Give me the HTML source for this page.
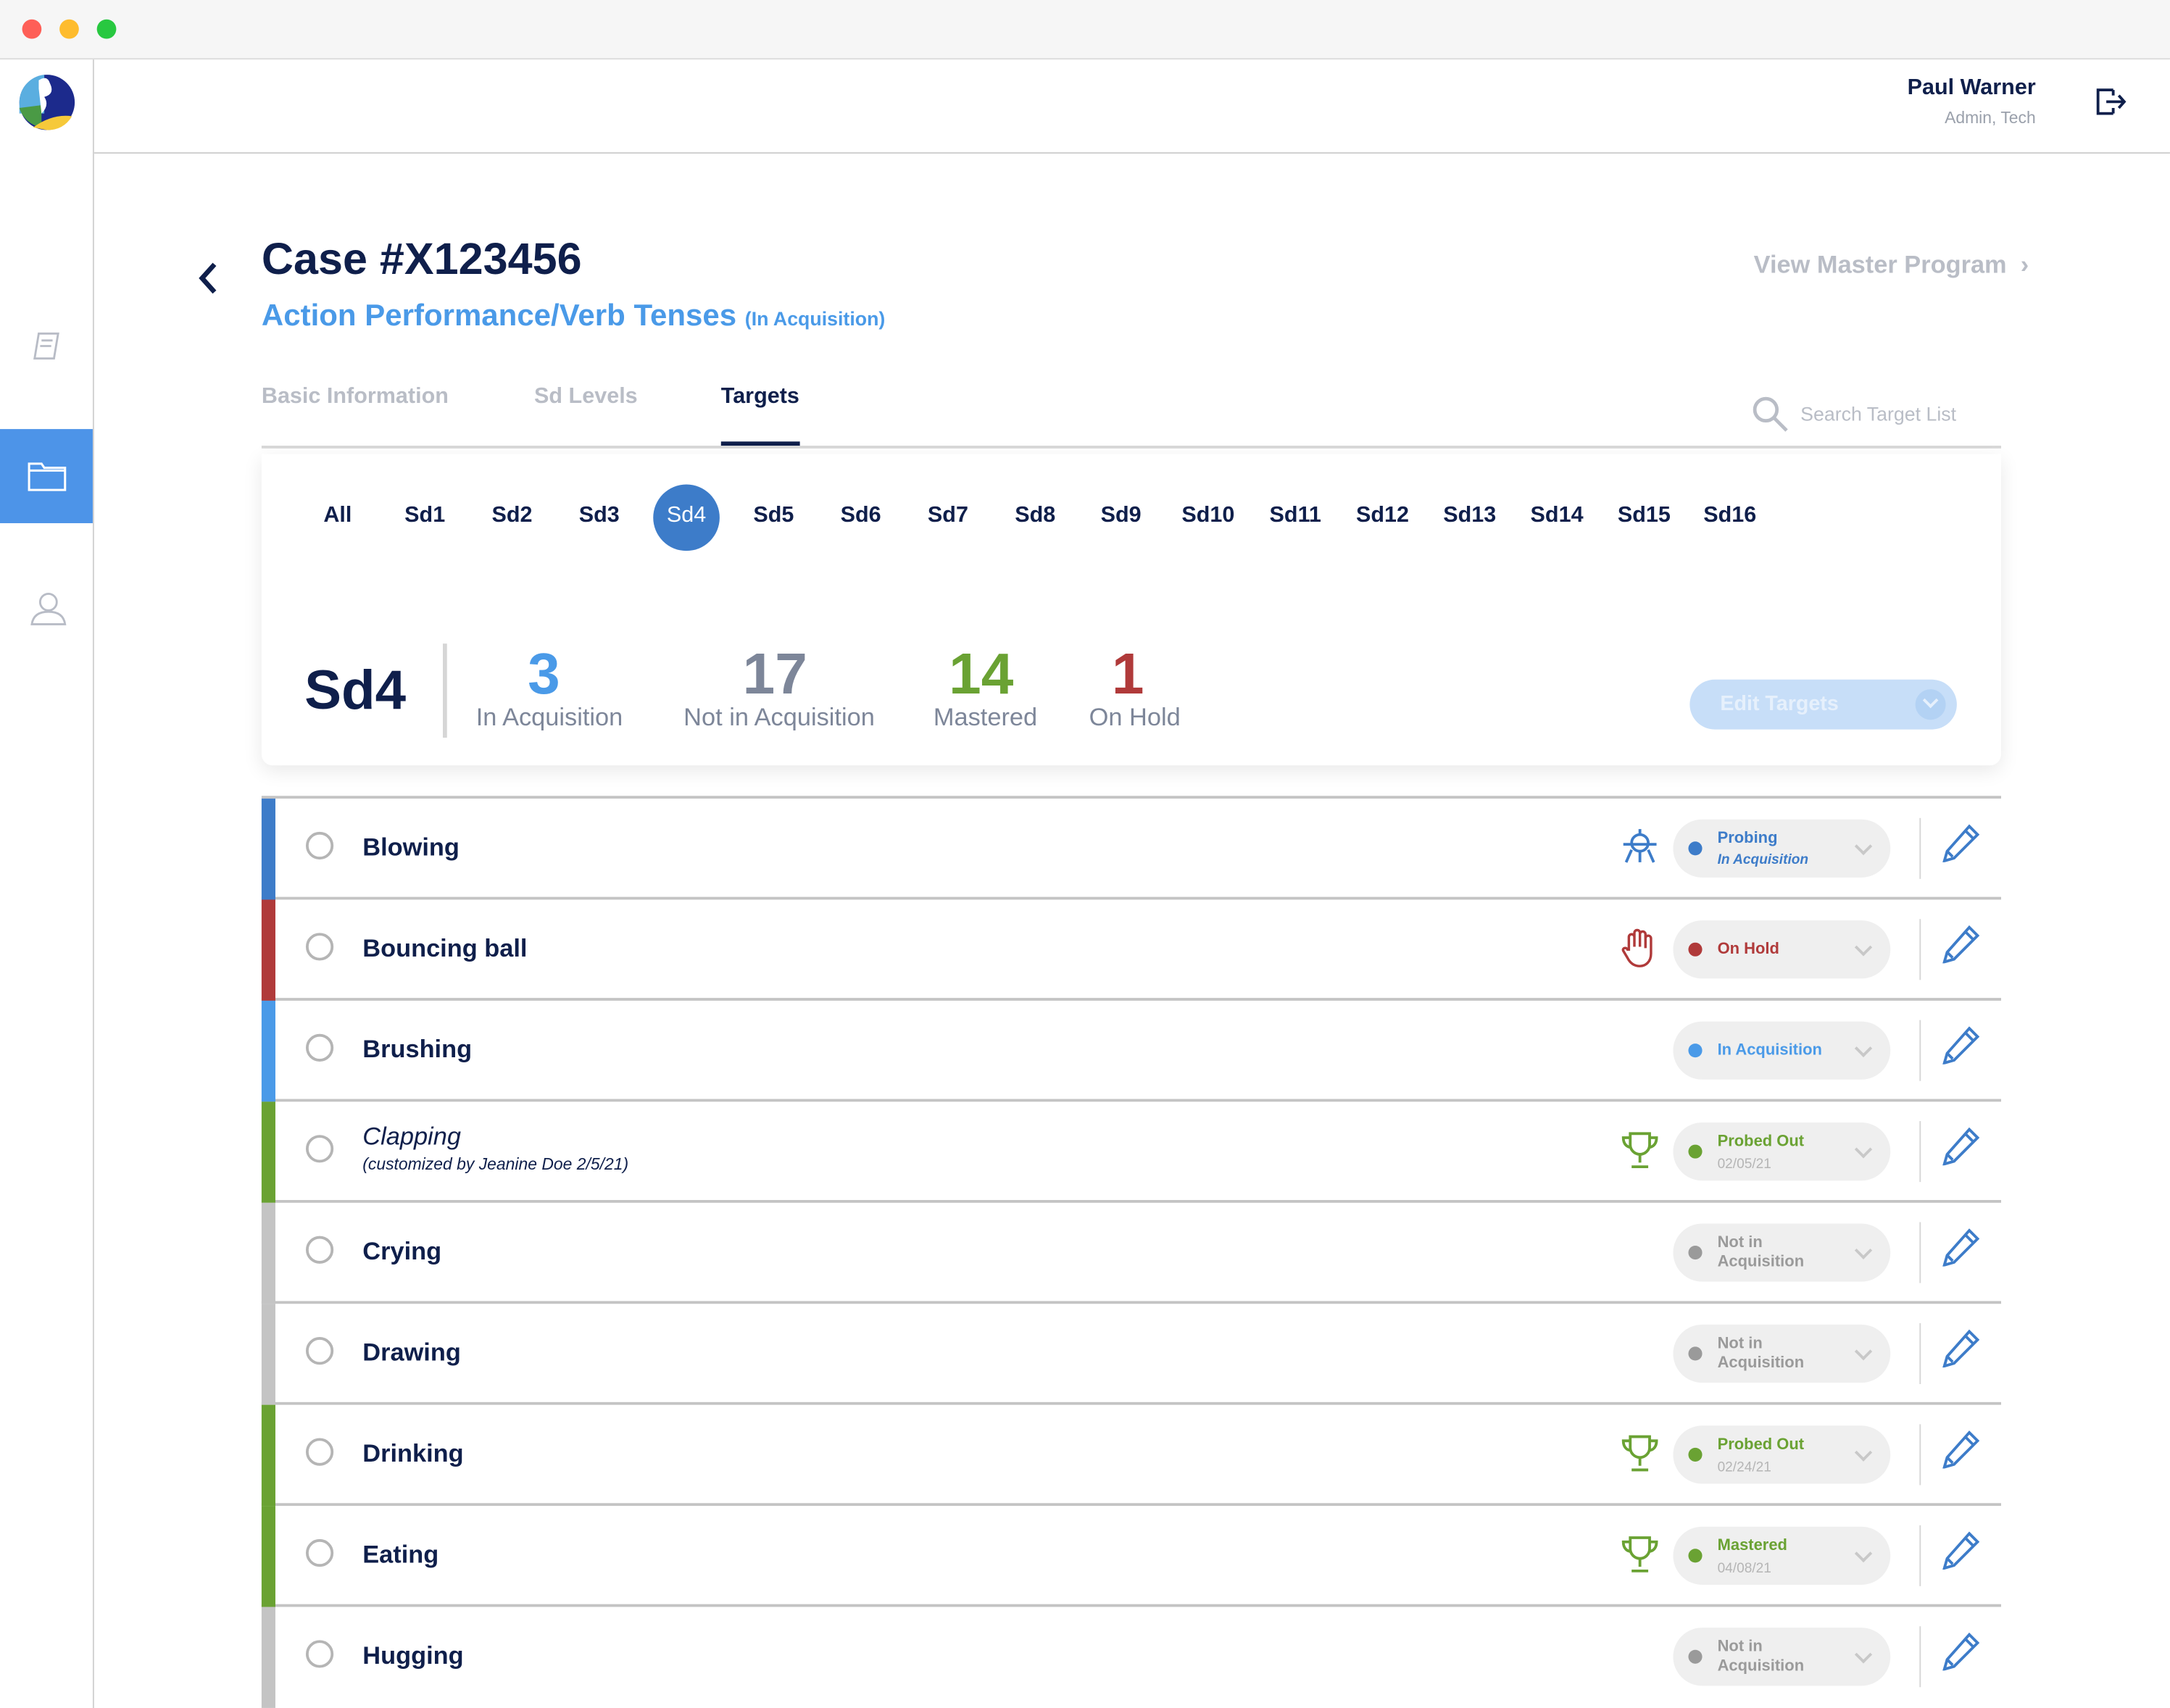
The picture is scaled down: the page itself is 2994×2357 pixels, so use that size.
<!DOCTYPE html>
<html><head><meta charset="utf-8"><style>
*{margin:0;padding:0;box-sizing:border-box}
html,body{width:2994px;height:2357px;overflow:hidden;background:#fff;font-family:"Liberation Sans",sans-serif}
#w{position:absolute;left:0;top:0;width:1568px;height:1234px;transform:scale(1.9094,1.9100);transform-origin:0 0;background:#fff}
.a{position:absolute;white-space:nowrap}
.nv{color:#0f1f4b}
.sd{position:absolute;top:364px;font-size:16px;font-weight:bold;color:#0f1f4b;transform:translateX(-50%)}
.row{position:absolute;left:189px;width:1257px;height:73px;border-bottom:2px solid #c4c4c4}
.bar{position:absolute;left:0;top:0;width:10px;height:73px}
.rad{position:absolute;left:32px;top:24px;width:20px;height:20px;border:2px solid #b5b5b5;border-radius:50%}
.nm{position:absolute;left:73px;top:25px;font-size:18px;font-weight:bold;color:#0f1f4b}
.pill{position:absolute;left:1020px;top:15px;width:157px;height:42px;background:#efefef;border-radius:21px}
.dot{position:absolute;left:11px;top:16px;width:10px;height:10px;border-radius:50%}
.pt{position:absolute;left:32px;font-size:11.5px;font-weight:bold;line-height:14px}
.chev{position:absolute;left:133px;top:15px;width:9px;height:9px;border-right:2px solid #c8c8c8;border-bottom:2px solid #c8c8c8;transform:rotate(45deg)}
.vs{position:absolute;left:1198px;top:14px;width:1px;height:44px;background:#d6d6d6}
.pen{position:absolute;left:1214px;top:18px}
.ic{position:absolute;left:982px;top:20px}
</style></head><body><div id="w">
<div class="a" style="left:0;top:0;width:1568px;height:43px;background:#f6f6f6;border-bottom:1px solid #ddd"></div>
<div class="a" style="left:16px;top:14px;width:14px;height:14px;border-radius:50%;background:#fe5f57"></div>
<div class="a" style="left:43px;top:14px;width:14px;height:14px;border-radius:50%;background:#febc2e"></div>
<div class="a" style="left:70px;top:14px;width:14px;height:14px;border-radius:50%;background:#28c840"></div>
<div class="a" style="left:67px;top:43px;width:1px;height:1191px;background:#d0d0d0"></div>
<div class="a" style="left:68px;top:110px;width:1500px;height:1px;background:#cfcfcf"></div>
<svg class="a" style="left:12px;top:52px" width="44" height="44" viewBox="0 0 44 44"><circle cx="22" cy="22" r="20" fill="#1c2a8c"/><path d="M2 22A20 20 0 0 1 20 2L20 30 2 30Z" fill="#5aaee0"/><path d="M2 26L18 24 18 40A20 20 0 0 1 2 26Z" fill="#4a9a45"/><path d="M12 40Q26 30 40 32 34 42 22 42Z" fill="#f6c93a"/><path d="M16 6Q22 2 24 8 28 16 20 18 24 24 18 30L16 12Z" fill="#fff"/></svg>
<svg class="a" style="left:22px;top:238px" width="24" height="24" viewBox="0 0 24 24" fill="none" stroke="#b8bcc6" stroke-width="1.5"><path d="M6 3h14l-3 18H3z"/><path d="M8 8h8M7 12h8"/></svg>
<div class="a" style="left:0;top:310px;width:67px;height:68px;background:#4d94e8"></div>
<svg class="a" style="left:20px;top:332px" width="28" height="24" viewBox="0 0 28 24" fill="none" stroke="#fff" stroke-width="1.6"><path d="M1 3h9l2 3h15v16H1z"/><path d="M1 8h26"/></svg>
<svg class="a" style="left:20px;top:425px" width="28" height="28" viewBox="0 0 28 28" fill="none" stroke="#b8bcc6" stroke-width="1.5"><circle cx="15" cy="10" r="6"/><path d="M3 26c1-7 6-9 12-9s11 2 12 9z"/></svg>
<div class="a nv" style="right:97px;top:55px;font-size:16px;font-weight:bold">Paul Warner</div>
<div class="a" style="right:97px;top:78px;font-size:12px;color:#9aa0ab">Admin, Tech</div>
<svg class="a" style="left:1513px;top:61px" width="24" height="24" viewBox="0 0 24 24" fill="none" stroke="#0f1f4b" stroke-width="2"><path d="M14 4H3v17h11M14 4v4M14 21v-4"/><path d="M9 12.5h13M18 8l4 4.5-4 4.5"/></svg>
<svg class="a" style="left:141px;top:188px" width="18" height="26" viewBox="0 0 18 26"><path d="M14 3L5 13l9 10" fill="none" stroke="#0f1f4b" stroke-width="3.5"/></svg>
<div class="a nv" style="left:189px;top:169px;font-size:32px;font-weight:bold">Case #X123456</div>
<div class="a" style="left:189px;top:215px;font-size:22px;font-weight:bold;color:#4a9ae8">Action Performance/Verb Tenses <span style="font-size:14px">(In Acquisition)</span></div>
<div class="a" style="right:102px;top:181px;font-size:18px;font-weight:bold;color:#b9bdc6">View Master Program &nbsp;›</div>
<div class="a" style="left:189px;top:278px;font-size:16px;font-weight:bold;color:#b9bdc6">Basic Information</div>
<div class="a" style="left:386px;top:278px;font-size:16px;font-weight:bold;color:#b9bdc6">Sd Levels</div>
<div class="a nv" style="left:521px;top:278px;font-size:16px;font-weight:bold">Targets</div>
<div class="a" style="left:521px;top:319px;width:57px;height:3px;background:#0f1f4b"></div>
<div class="a" style="left:189px;top:322px;width:1257px;height:2px;background:#d8d8d8"></div>
<svg class="a" style="left:1265px;top:285px" width="28" height="28" viewBox="0 0 28 28" fill="none" stroke="#b9bdc6" stroke-width="2.5"><circle cx="11" cy="11" r="8"/><path d="M17 17l9 9"/></svg>
<div class="a" style="left:1301px;top:291px;font-size:14px;color:#b9bdc6">Search Target List</div>
<div class="a" style="left:189px;top:328px;width:1257px;height:225px;background:#fff;box-shadow:0 4px 14px rgba(0,0,0,0.09);border-radius:0 0 8px 8px"></div>
<div class="a" style="left:472px;top:350px;width:48px;height:48px;border-radius:50%;background:#3d7cc9"></div>
<div class="sd" style="left:244px">All</div><div class="sd" style="left:307px">Sd1</div><div class="sd" style="left:370px">Sd2</div><div class="sd" style="left:433px">Sd3</div><div class="sd" style="left:496px;color:#fff;font-weight:normal">Sd4</div><div class="sd" style="left:559px">Sd5</div><div class="sd" style="left:622px">Sd6</div><div class="sd" style="left:685px">Sd7</div><div class="sd" style="left:748px">Sd8</div><div class="sd" style="left:810px">Sd9</div><div class="sd" style="left:873px">Sd10</div><div class="sd" style="left:936px">Sd11</div><div class="sd" style="left:999px">Sd12</div><div class="sd" style="left:1062px">Sd13</div><div class="sd" style="left:1125px">Sd14</div><div class="sd" style="left:1188px">Sd15</div><div class="sd" style="left:1250px">Sd16</div>
<div class="a nv" style="left:220px;top:477px;font-size:40px;font-weight:bold">Sd4</div>
<div class="a" style="left:320px;top:465px;width:3px;height:68px;background:#d6d6d6"></div>
<div class="a" style="left:393px;top:463px;transform:translateX(-50%);font-size:42px;font-weight:bold;color:#4a9ae8">3</div>
<div class="a" style="left:397px;top:508px;transform:translateX(-50%);font-size:18px;color:#7d8699">In Acquisition</div>
<div class="a" style="left:560px;top:463px;transform:translateX(-50%);font-size:42px;font-weight:bold;color:#7d8699">17</div>
<div class="a" style="left:563px;top:508px;transform:translateX(-50%);font-size:18px;color:#7d8699">Not in Acquisition</div>
<div class="a" style="left:709px;top:463px;transform:translateX(-50%);font-size:42px;font-weight:bold;color:#6aa233">14</div>
<div class="a" style="left:712px;top:508px;transform:translateX(-50%);font-size:18px;color:#7d8699">Mastered</div>
<div class="a" style="left:815px;top:463px;transform:translateX(-50%);font-size:42px;font-weight:bold;color:#b03a3a">1</div>
<div class="a" style="left:820px;top:508px;transform:translateX(-50%);font-size:18px;color:#7d8699">On Hold</div>
<div class="a" style="left:1221px;top:491px;width:193px;height:36px;border-radius:18px;background:#c7def8"></div>
<div class="a" style="left:1243px;top:500px;font-size:15px;font-weight:bold;color:#e6f0fc">Edit Targets</div>
<div class="a" style="left:1384px;top:498px;width:22px;height:22px;border-radius:50%;background:#b3d2f4"></div>
<div class="a" style="left:1391px;top:502px;width:8px;height:8px;border-right:2px solid #e6f0fc;border-bottom:2px solid #e6f0fc;transform:rotate(45deg)"></div>
<div class="a" style="left:189px;top:575px;width:1257px;height:2px;background:#c4c4c4"></div>

<div class="row" style="top:577px"><div class="bar" style="background:#3d7cc9"></div><div class="rad"></div><div class="nm">Blowing</div>
<svg class="ic" width="28" height="30" viewBox="0 0 28 30" fill="none" stroke="#3d7cc9" stroke-width="2"><circle cx="14" cy="12" r="6"/><path d="M2 13h24M14 2v4M8 17l-4 9M20 17l4 9M14 18v8"/></svg>
<div class="pill"><div class="dot" style="background:#3d7cc9"></div><div class="pt" style="top:7px;color:#3d7cc9">Probing</div><div class="pt" style="top:23px;color:#3d7cc9;font-size:10px;font-style:italic">In Acquisition</div><div class="chev"></div></div><div class="vs"></div>
<svg class="pen" width="28" height="28" viewBox="0 0 28 28" fill="none" stroke="#3d7cc9" stroke-width="2"><path d="M20 2l6 6L9 25l-7 2 2-7z M17 5l6 6 M4 20l4 4"/></svg></div>

<div class="row" style="top:650px"><div class="bar" style="background:#b03a3a"></div><div class="rad"></div><div class="nm">Bouncing ball</div>
<svg class="ic" width="26" height="30" viewBox="0 0 26 30" fill="none" stroke="#b03a3a" stroke-width="1.8"><path d="M6 16V7a2 2 0 0 1 4 0v7V4a2 2 0 0 1 4 0v10V5a2 2 0 0 1 4 0v10V8a2 2 0 0 1 4 0v11c0 6-4 9-8 9s-7-2-9-6l-3-5c-1-2 2-3 3-1z"/></svg>
<div class="pill"><div class="dot" style="background:#b03a3a"></div><div class="pt" style="top:14px;color:#b03a3a">On Hold</div><div class="chev"></div></div><div class="vs"></div>
<svg class="pen" width="28" height="28" viewBox="0 0 28 28" fill="none" stroke="#3d7cc9" stroke-width="2"><path d="M20 2l6 6L9 25l-7 2 2-7z M17 5l6 6 M4 20l4 4"/></svg></div>

<div class="row" style="top:723px"><div class="bar" style="background:#4a9ae8"></div><div class="rad"></div><div class="nm">Brushing</div>
<div class="pill"><div class="dot" style="background:#4a9ae8"></div><div class="pt" style="top:14px;color:#4a9ae8">In Acquisition</div><div class="chev"></div></div><div class="vs"></div>
<svg class="pen" width="28" height="28" viewBox="0 0 28 28" fill="none" stroke="#3d7cc9" stroke-width="2"><path d="M20 2l6 6L9 25l-7 2 2-7z M17 5l6 6 M4 20l4 4"/></svg></div>

<div class="row" style="top:796px"><div class="bar" style="background:#6aa233"></div><div class="rad"></div><div class="nm" style="top:15px;font-weight:normal;font-style:italic">Clapping</div><div class="a" style="left:73px;top:38px;font-size:12px;font-style:italic;color:#0f1f4b">(customized by Jeanine Doe 2/5/21)</div>
<svg class="ic" width="28" height="30" viewBox="0 0 28 30" fill="none" stroke="#6aa233" stroke-width="2"><path d="M7 3h14v8a7 7 0 0 1-14 0zM7 6H2c0 5 3 7 6 7M21 6h5c0 5-3 7-6 7M14 18v6M8 27h12"/></svg>
<div class="pill"><div class="dot" style="background:#6aa233"></div><div class="pt" style="top:7px;color:#6aa233">Probed Out</div><div class="pt" style="top:24px;color:#b5b5b5;font-size:10px;font-weight:normal">02/05/21</div><div class="chev"></div></div><div class="vs"></div>
<svg class="pen" width="28" height="28" viewBox="0 0 28 28" fill="none" stroke="#3d7cc9" stroke-width="2"><path d="M20 2l6 6L9 25l-7 2 2-7z M17 5l6 6 M4 20l4 4"/></svg></div>

<div class="row" style="top:869px"><div class="bar" style="background:#c4c4c4"></div><div class="rad"></div><div class="nm">Crying</div>
<div class="pill"><div class="dot" style="background:#9a9a9a"></div><div class="pt" style="top:7px;color:#9a9a9a">Not in<br>Acquisition</div><div class="chev"></div></div><div class="vs"></div>
<svg class="pen" width="28" height="28" viewBox="0 0 28 28" fill="none" stroke="#3d7cc9" stroke-width="2"><path d="M20 2l6 6L9 25l-7 2 2-7z M17 5l6 6 M4 20l4 4"/></svg></div>

<div class="row" style="top:942px"><div class="bar" style="background:#c4c4c4"></div><div class="rad"></div><div class="nm">Drawing</div>
<div class="pill"><div class="dot" style="background:#9a9a9a"></div><div class="pt" style="top:7px;color:#9a9a9a">Not in<br>Acquisition</div><div class="chev"></div></div><div class="vs"></div>
<svg class="pen" width="28" height="28" viewBox="0 0 28 28" fill="none" stroke="#3d7cc9" stroke-width="2"><path d="M20 2l6 6L9 25l-7 2 2-7z M17 5l6 6 M4 20l4 4"/></svg></div>

<div class="row" style="top:1015px"><div class="bar" style="background:#6aa233"></div><div class="rad"></div><div class="nm">Drinking</div>
<svg class="ic" width="28" height="30" viewBox="0 0 28 30" fill="none" stroke="#6aa233" stroke-width="2"><path d="M7 3h14v8a7 7 0 0 1-14 0zM7 6H2c0 5 3 7 6 7M21 6h5c0 5-3 7-6 7M14 18v6M8 27h12"/></svg>
<div class="pill"><div class="dot" style="background:#6aa233"></div><div class="pt" style="top:7px;color:#6aa233">Probed Out</div><div class="pt" style="top:24px;color:#b5b5b5;font-size:10px;font-weight:normal">02/24/21</div><div class="chev"></div></div><div class="vs"></div>
<svg class="pen" width="28" height="28" viewBox="0 0 28 28" fill="none" stroke="#3d7cc9" stroke-width="2"><path d="M20 2l6 6L9 25l-7 2 2-7z M17 5l6 6 M4 20l4 4"/></svg></div>

<div class="row" style="top:1088px"><div class="bar" style="background:#6aa233"></div><div class="rad"></div><div class="nm">Eating</div>
<svg class="ic" width="28" height="30" viewBox="0 0 28 30" fill="none" stroke="#6aa233" stroke-width="2"><path d="M7 3h14v8a7 7 0 0 1-14 0zM7 6H2c0 5 3 7 6 7M21 6h5c0 5-3 7-6 7M14 18v6M8 27h12"/></svg>
<div class="pill"><div class="dot" style="background:#6aa233"></div><div class="pt" style="top:7px;color:#6aa233">Mastered</div><div class="pt" style="top:24px;color:#b5b5b5;font-size:10px;font-weight:normal">04/08/21</div><div class="chev"></div></div><div class="vs"></div>
<svg class="pen" width="28" height="28" viewBox="0 0 28 28" fill="none" stroke="#3d7cc9" stroke-width="2"><path d="M20 2l6 6L9 25l-7 2 2-7z M17 5l6 6 M4 20l4 4"/></svg></div>

<div class="row" style="top:1161px;border-bottom:none"><div class="bar" style="background:#c4c4c4"></div><div class="rad"></div><div class="nm">Hugging</div>
<div class="pill"><div class="dot" style="background:#9a9a9a"></div><div class="pt" style="top:7px;color:#9a9a9a">Not in<br>Acquisition</div><div class="chev"></div></div><div class="vs"></div>
<svg class="pen" width="28" height="28" viewBox="0 0 28 28" fill="none" stroke="#3d7cc9" stroke-width="2"><path d="M20 2l6 6L9 25l-7 2 2-7z M17 5l6 6 M4 20l4 4"/></svg></div>
</div></body></html>
